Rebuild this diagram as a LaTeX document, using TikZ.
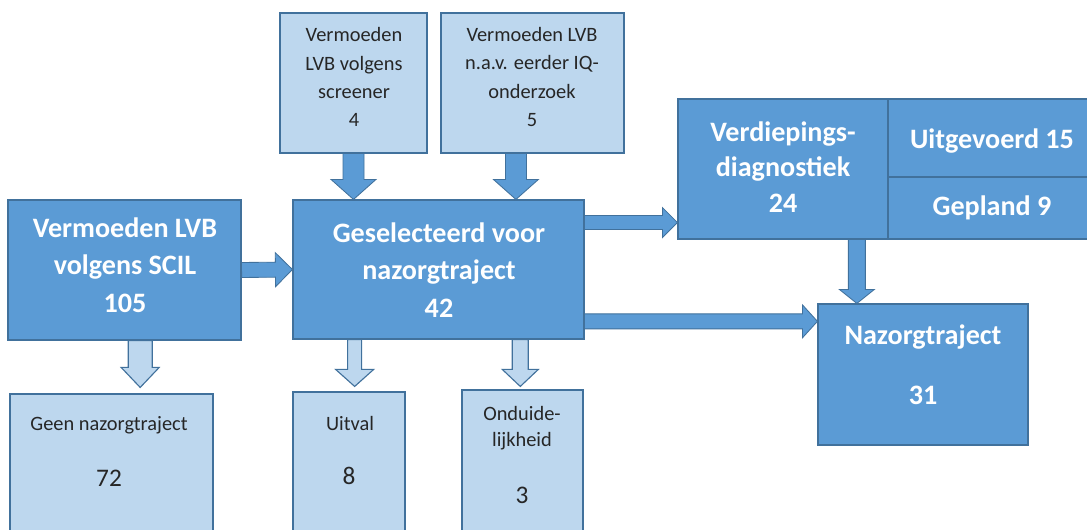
\documentclass[tikz,border=0pt]{standalone}
\usepackage{fontspec}
\setmainfont{Carlito}
\usetikzlibrary{calc,fit}
\definecolor{dblue}{RGB}{91,155,213}
\definecolor{bline}{RGB}{65,113,156}
\definecolor{lblue}{RGB}{189,215,238}
\definecolor{tgray}{RGB}{38,38,38}
\tikzset{
 dbox/.style={draw=bline, fill=dblue, line width=0.8pt, inner sep=0pt},
 lbox/.style={draw=bline, fill=lblue, line width=0.8pt, inner sep=0pt},
 btext/.style={text=white, font=\fontsize{20}{26.5}\selectfont\bfseries, align=center, inner sep=0pt},
 ltext/.style={text=tgray, font=\fontsize{14.5}{20}\selectfont, align=center, inner sep=0pt},
 lnum/.style={text=tgray, font=\fontsize{18}{22}\selectfont, inner sep=0pt},
 darr/.style={fill=dblue, draw=bline, line width=0.6pt, line join=miter},
 larr/.style={fill=lblue, draw=bline, line width=0.8pt, line join=miter},
}
% style, from, to, shaft half width, head half width, head length (in px units)
\newcommand\blockarrow[6]{%
  \coordinate (ba-s) at (#2);
  \coordinate (ba-t) at (#3);
  \coordinate (ba-h) at ($(ba-t)!#6*0.025cm!(ba-s)$);
  \filldraw[#1] ($(ba-s)!#4*0.025cm!90:(ba-t)$)
    -- ($(ba-h)!#4*0.025cm!90:(ba-t)$)
    -- ($(ba-h)!#5*0.025cm!90:(ba-t)$)
    -- (ba-t)
    -- ($(ba-h)!#5*0.025cm!-90:(ba-t)$)
    -- ($(ba-h)!#4*0.025cm!-90:(ba-t)$)
    -- ($(ba-s)!#4*0.025cm!-90:(ba-t)$) -- cycle;
}
\begin{document}
\begin{tikzpicture}[x=0.025cm, y=-0.025cm]
\useasboundingbox (0,0) rectangle (1087,530);
\clip (0,0) rectangle (1087,530);
\fill[white] (0,0) rectangle (1087,530);
% boxes
\node[dbox, fit={(8,200) (241,340)}] (scil) {};
\node[lbox, fit={(10,394) (213,545)}] (geen) {};
\node[lbox, fit={(280,13) (427,153)}] (scr) {};
\node[lbox, fit={(441,13) (624,153)}] (iq) {};
\node[dbox, fit={(293,200) (584,339)}] (gesel) {};
\node[lbox, fit={(293,392) (405,545)}] (uit) {};
\node[lbox, fit={(462,390) (583,545)}] (ond) {};
\node[dbox, fit={(678,99) (888,239)}] (verd) {};
\node[dbox, fit={(888,99) (1096,177)}] (uitg) {};
\node[dbox, fit={(888,177) (1096,239)}] (gepl) {};
\node[dbox, fit={(818,304) (1028,445)}] (naz) {};
% texts
\node[btext] (scil-t) at (125,265) {Vermoeden LVB\\volgens SCIL\\105};
\node[btext] (gesel-t) at (439,270) {Geselecteerd voor\\nazorgtraject\\42};
\node[btext, font=\fontsize{20}{25}\selectfont\bfseries] (verd-t) at (783,167) {Verdiepings-\\diagnostiek\\24};
\node[btext] (uitg-t) at (992,141) {Uitgevoerd 15};
\node[btext] (gepl-t) at (992,208) {Gepland 9};
\node[btext] (naz-t) at (923,337) {Nazorgtraject};
\node[btext] (naz-n) at (923,395) {31};
\node[ltext] (scr-t) at (354,77) {Vermoeden\\LVB volgens\\screener\\4};
\node[ltext] (iq-t) at (532,77) {Vermoeden LVB\\n.a.v. eerder IQ-\\onderzoek\\5};
\node[ltext] (geen-t) at (109,425) {Geen nazorgtraject};
\node[lnum] (geen-n) at (109,478) {72};
\node[ltext] (uit-t) at (350,423) {Uitval};
\node[lnum] (uit-n) at (349,476) {8};
\node[ltext, font=\fontsize{14.5}{18.5}\selectfont] (ond-t) at (522,428) {Onduide-\\lijkheid};
\node[lnum] (ond-n) at (522,495) {3};
% connectors
\coordinate (a1) at (scr.south);
\coordinate (a2) at ($(iq.south west)!0.41!(iq.south east)$);
\coordinate (a3) at ($(gesel.north east)!0.165!(gesel.south east)$);
\coordinate (a4) at ($(gesel.north east)!0.87!(gesel.south east)$);
\coordinate (a5) at ($(verd.south west)!0.85!(verd.south east)$);
\coordinate (a6) at ($(scil.south west)!0.567!(scil.south east)$);
\coordinate (a7) at ($(gesel.south west)!0.213!(gesel.south east)$);
\coordinate (a8) at ($(gesel.south west)!0.78!(gesel.south east)$);
\blockarrow{darr}{scil.east}{gesel.west}{7.5}{17}{17}
\blockarrow{darr}{a1}{a1 |- gesel.north}{10.5}{22.5}{20}
\blockarrow{darr}{a2}{a2 |- gesel.north}{10.5}{22.5}{20}
\blockarrow{darr}{a3}{a3 -| verd.west}{7}{15}{15}
\blockarrow{darr}{a4}{a4 -| naz.west}{7.5}{16.5}{15}
\blockarrow{darr}{a5}{a5 |- naz.north}{8.5}{17.5}{14}
\blockarrow{larr}{a6}{$(a6 |- geen.north)+(0,-6)$}{12}{19}{20}
\blockarrow{larr}{a7}{$(a7 |- uit.north)+(0,-5)$}{7}{19}{17}
\blockarrow{larr}{a8}{$(a8 |- ond.north)+(0,-3)$}{8}{18}{17}
\end{tikzpicture}
\end{document}
